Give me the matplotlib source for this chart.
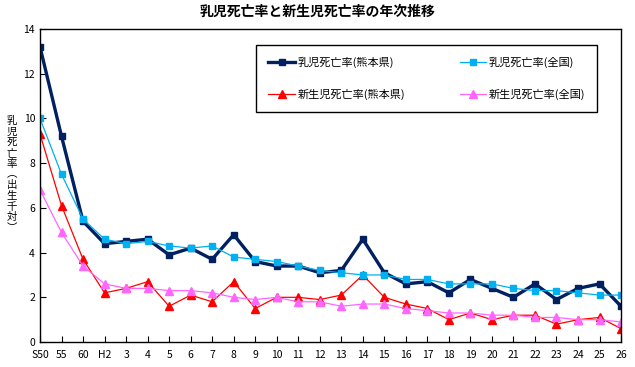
import numpy as np
import matplotlib
matplotlib.use('Agg')
import matplotlib.pyplot as plt

plt.rcParams['font.family'] = ['Noto Sans CJK JP', 'DejaVu Sans']

# 年次（昭和・平成）
years = ['S50', '55', '60', 'H2', '3', '4', '5', '6', '7', '8', '9', '10', '11', '12',
         '13', '14', '15', '16', '17', '18', '19', '20', '21', '22', '23', '24', '25', '26']

# 乳児死亡率（熊本県）
infant_kumamoto = [13.2, 9.2, 5.4, 4.4, 4.5, 4.6, 3.9, 4.2, 3.7, 4.8, 3.6, 3.4, 3.4, 3.1,
                   3.2, 4.6, 3.1, 2.6, 2.7, 2.2, 2.8, 2.4, 2.0, 2.6, 1.9, 2.4, 2.6, 1.6]
# 乳児死亡率（全国）
infant_japan = [10.0, 7.5, 5.5, 4.6, 4.4, 4.5, 4.3, 4.2, 4.3, 3.8, 3.7, 3.6, 3.4, 3.2,
                3.1, 3.0, 3.0, 2.8, 2.8, 2.6, 2.6, 2.6, 2.4, 2.3, 2.3, 2.2, 2.1, 2.1]
# 新生児死亡率（熊本県）
neonatal_kumamoto = [9.3, 6.1, 3.7, 2.2, 2.4, 2.7, 1.6, 2.1, 1.8, 2.7, 1.5, 2.0, 2.0, 1.9,
                     2.1, 3.0, 2.0, 1.7, 1.5, 1.0, 1.3, 1.0, 1.2, 1.2, 0.8, 1.0, 1.1, 0.6]
# 新生児死亡率（全国）
neonatal_japan = [6.8, 4.9, 3.4, 2.6, 2.4, 2.4, 2.3, 2.3, 2.2, 2.0, 1.9, 2.0, 1.8, 1.8,
                  1.6, 1.7, 1.7, 1.5, 1.4, 1.3, 1.3, 1.2, 1.2, 1.1, 1.1, 1.0, 1.0, 0.9]

x = np.arange(len(years))

fig = plt.figure(figsize=(6.35, 3.67), dpi=100)
ax = fig.add_axes([0.063, 0.068, 0.915, 0.853])

l1, = ax.plot(x, infant_kumamoto, color='#002060', lw=2.4, marker='s', ms=4.6,
              label='乳児死亡率(熊本県)')
l2, = ax.plot(x, neonatal_kumamoto, color='#ff0000', lw=0.9, marker='^', ms=5.2,
              label='新生児死亡率(熊本県)')
l3, = ax.plot(x, infant_japan, color='#00b0f0', lw=0.9, marker='s', ms=4.6,
              label='乳児死亡率(全国)')
l4, = ax.plot(x, neonatal_japan, color='#ff66ff', lw=0.9, marker='^', ms=5.2,
              label='新生児死亡率(全国)')

ax.set_xlim(0, len(years) - 1)
ax.set_ylim(0, 14)
ax.set_yticks(range(0, 15, 2))
ax.set_xticks(x)
ax.set_xticklabels(years)
ax.tick_params(direction='in', labelsize=7.5, length=4, width=0.8)
ax.tick_params(axis='x', pad=6)
for s in ax.spines.values():
    s.set_linewidth(1.0)

# 凡例（枠の幅を元図に合わせて横に広げる）
leg = ax.legend(handles=[l1, l2, l3, l4], ncol=2, loc='upper left',
                bbox_to_anchor=(0.372, 0.95, 0.587, 0.0), mode='expand',
                fontsize=8, fancybox=False,
                edgecolor='black', framealpha=1, handlelength=2.4,
                columnspacing=3.0, labelspacing=1.85, borderpad=1.1,
                handletextpad=0.2, borderaxespad=0)
leg.get_frame().set_linewidth(1.0)

fig.text(0.5, 0.967, '乳児死亡率と新生児死亡率の年次推移', ha='center', va='center',
         fontsize=10, fontweight='bold')

# 縦書きの軸ラベル
ylabel = '乳児死亡率︵出生千対︶'
for i, ch in enumerate(ylabel):
    fig.text(12 / 635, 1 - (121 + i * 10.7) / 367, ch, ha='center', va='center',
             fontsize=7.5)

fig.savefig('out.png', dpi=100)
